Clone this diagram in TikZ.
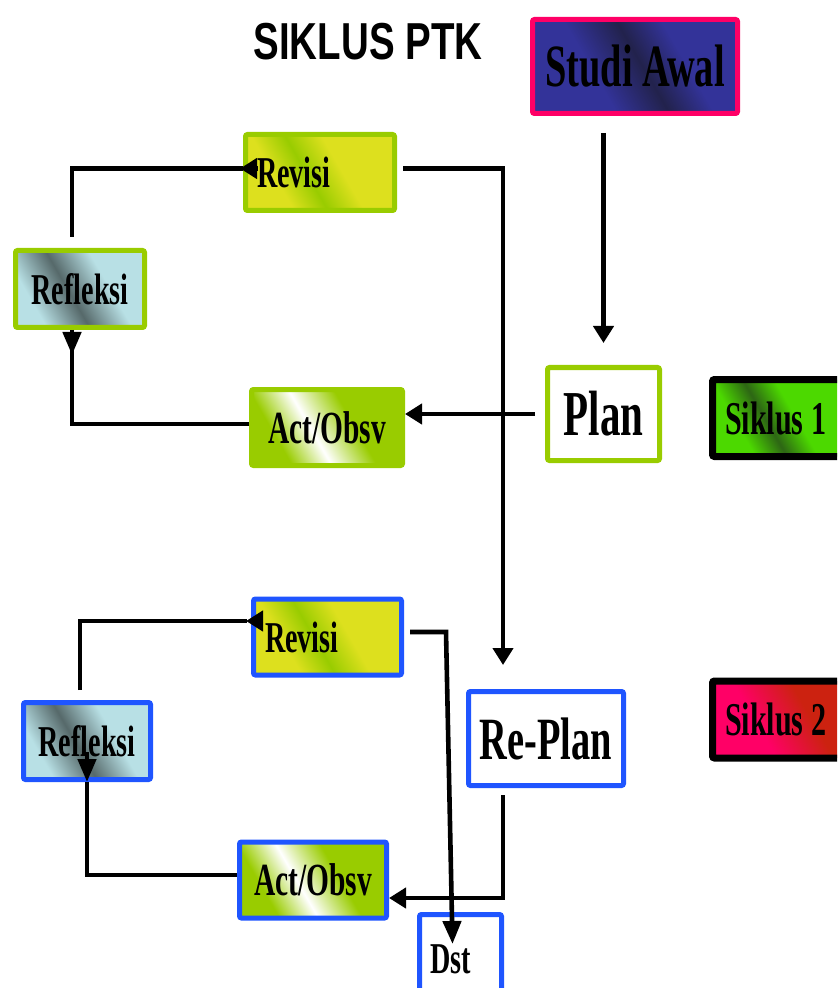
\documentclass[tikz,border=0pt]{standalone}
\usepackage{fontspec}
\usetikzlibrary{arrows.meta}
\newfontfamily\boxfont[FakeStretch=0.64]{Liberation Serif}
\newfontfamily\headfont[FakeStretch=0.74]{Liberation Sans}
\definecolor{leafgreen}{HTML}{99CC00}
\definecolor{royal}{HTML}{1F55FF}
\definecolor{hotpink}{HTML}{FF0066}
\definecolor{navyfill}{HTML}{333399}
\definecolor{navydark}{HTML}{22224C}
\definecolor{lemon}{HTML}{DDE01E}
\definecolor{iceblue}{HTML}{B8E0E5}
\definecolor{slate}{HTML}{56696A}
\definecolor{lime}{HTML}{4CD900}
\definecolor{limedark}{HTML}{2D6614}
\definecolor{brick}{HTML}{CC2210}
\pgfdeclarehorizontalshading{revshade}{100bp}{color(0bp)=(lemon); color(33bp)=(lemon); color(45bp)=(leafgreen); color(58bp)=(lemon); color(100bp)=(lemon)}
\pgfdeclarehorizontalshading{reflshade}{100bp}{color(0bp)=(iceblue); color(28bp)=(iceblue); color(45bp)=(slate); color(62bp)=(iceblue); color(100bp)=(iceblue)}
\pgfdeclarehorizontalshading{actshade}{100bp}{color(0bp)=(leafgreen); color(30bp)=(leafgreen); color(44bp)=(white); color(60bp)=(leafgreen); color(100bp)=(leafgreen)}
\pgfdeclarehorizontalshading{studishade}{100bp}{color(0bp)=(navyfill); color(38bp)=(navyfill); color(52bp)=(navydark); color(64bp)=(navyfill); color(100bp)=(navyfill)}
\pgfdeclarehorizontalshading{sikonshade}{100bp}{color(0bp)=(lime); color(32bp)=(lime); color(44bp)=(limedark); color(56bp)=(lime); color(100bp)=(lime)}
\pgfdeclarehorizontalshading{siktwoshade}{100bp}{color(0bp)=(hotpink); color(40bp)=(hotpink); color(62bp)=(brick); color(100bp)=(brick)}

\begin{document}
\begin{tikzpicture}[x=0.5pt,y=-0.5pt]
    \tikzstyle{box}=[draw,line width=2.5pt,rounded corners=1pt,inner sep=0pt,font=\boxfont\bfseries\fontsize{22pt}{24pt}\selectfont]
    \tikzstyle{cycone}=[box,draw=leafgreen]
    \tikzstyle{cyctwo}=[box,draw=royal]
    \tikzstyle{revisi}=[shade,shading=revshade,shading angle=30,minimum height=38pt,align=left,inner xsep=5.75pt]
    \tikzstyle{refleksi}=[shade,shading=reflshade,shading angle=30,minimum height=38.5pt]
    \tikzstyle{actobs}=[shade,shading=actshade,shading angle=30,minimum height=38pt,font=\boxfont\bfseries\fontsize{23pt}{25pt}\selectfont]
    \tikzstyle{siklus}=[box,draw=black,line width=3.5pt,minimum height=38.5pt,inner xsep=6.25pt,font=\boxfont\bfseries\fontsize{23.5pt}{25pt}\selectfont]
    \tikzstyle{conn}=[line width=2.3pt]
    \tikzstyle{tip}=[line width=2.3pt,-{Triangle[length=8.5pt,width=10pt]}]
    \tikzstyle{tipdown}=[line width=2.3pt,-{Triangle[length=11.5pt,width=9pt]}]

    \useasboundingbox (0,0) rectangle (837,988);
    \clip (0,0) rectangle (837,988);

    \node (title) at (368,42) {\headfont\bfseries\fontsize{26pt}{28pt}\selectfont SIKLUS PTK};
    \node (studi)[box,draw=hotpink,shade,shading=studishade,shading angle=30,minimum width=102.5pt,minimum height=47pt,font=\boxfont\bfseries\fontsize{30pt}{32pt}\selectfont] at (635,66.5) {Studi Awal};
    \node (plan)[cycone,fill=white,minimum width=56pt,minimum height=46.5pt,font=\boxfont\bfseries\fontsize{32pt}{34pt}\selectfont] at (603.5,414) {Plan};
    \node (sik1)[siklus,shade,shading=sikonshade,shading angle=30] at (780.5,418) {\makebox[55.5pt][l]{Siklus 1}};
    \node (sik2)[siklus,shade,shading=siktwoshade,shading angle=30] at (780.5,719.5) {\makebox[55.5pt][l]{Siklus 2}};

    \node (rev1)[cycone,revisi,text width=63pt] at (320,172.5) {Revisi};
    \node (refl1)[cycone,refleksi,minimum width=64.5pt] at (80,289) {Refleksi};
    \node (act1)[cycone,actobs,minimum width=75.5pt] at (327,427.5) {Act/Obsv};

    \node (rev2)[cyctwo,revisi,text width=62.5pt] at (327.5,637) {Revisi};
    \node (refl2)[cyctwo,refleksi,minimum width=63.5pt] at (87,741) {Refleksi};
    \node (act2)[cyctwo,actobs,minimum width=73.5pt] at (313,880) {Act/Obsv};
    \node (replan)[cyctwo,fill=white,minimum width=77.5pt,minimum height=47pt,font=\boxfont\bfseries\fontsize{30pt}{32pt}\selectfont] at (546,738.5) {Re-Plan};
    \node (dst)[cyctwo,fill=white,minimum height=45pt,text width=30.5pt,align=left,inner xsep=5.25pt] at (460.5,959.5) {Dst};

    \draw[tip] (studi.south -| plan.north) ++(0,17) -- ([yshift=11pt]plan.north);
    \draw[tip] (plan.west) ++(-10,0) -- (plan.west -| act1.east);
    \draw[conn] ([yshift=1.75pt]act1.west) -| ([xshift=-4pt]refl1.south);
    \draw[tipdown] ([xshift=-4pt]refl1.south) -- ++(0,25);
    \draw[conn] ([shift={(-4pt,5.5pt)}]refl1.north) |- ([yshift=2pt]rev1.west);
    \draw[tip] ([shift={(7.5pt,2pt)}]rev1.west) -- ([shift={(-1.5pt,2pt)}]rev1.west);
    \draw[tip] ([shift={(3pt,2pt)}]rev1.east) -| ([shift={(-21.5pt,12pt)}]replan.north);

    \draw[conn] ([shift={(-3.5pt,5pt)}]refl2.north) |- ([shift={(-2pt,8pt)}]rev2.west);
    \draw[tip] ([shift={(6pt,8pt)}]rev2.west) -- ([shift={(-2.5pt,8pt)}]rev2.west);
    \draw[conn] ([yshift=2.5pt]act2.west) -| (refl2.south);
    \draw[tipdown] ([yshift=15pt]refl2.south) -- (refl2.south);
    \draw[tipdown] ([shift={(3pt,2.5pt)}]rev2.east) -- ++(36,0) -- ([shift={(-4pt,-16pt)}]dst.north);
    \draw[tip] ([shift={(-21.5pt,-3.5pt)}]replan.south) |- ([yshift=-9pt]act2.east);
\end{tikzpicture}
\end{document}
